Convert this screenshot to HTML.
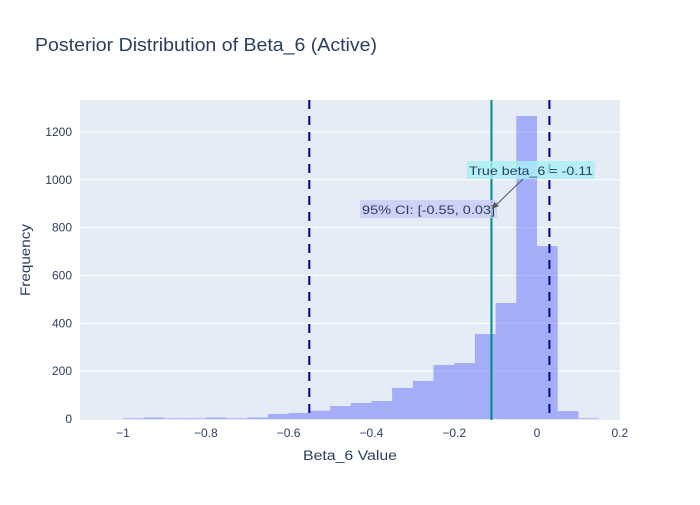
<!DOCTYPE html>
<html><head><meta charset="utf-8"><style>
body{margin:0;background:#fff;font-family:"Liberation Sans",Arial,sans-serif}
svg text{font-family:"Liberation Sans",Arial,sans-serif;fill:#2a3f5f}
</style></head><body>
<svg id="chart" width="700" height="500">
<rect width="700" height="500" fill="#fff"/>
<text x="35" y="51" font-size="18" textLength="342" lengthAdjust="spacingAndGlyphs">Posterior Distribution of Beta_6 (Active)</text>
<rect x="80" y="100" width="540" height="320" fill="#e5ecf6"/>
<g id="grid"></g><g id="bars"></g><g id="lines"></g><g id="ticks"></g><g id="ann"></g>
<text x="350" y="460" font-size="14" textLength="94" lengthAdjust="spacingAndGlyphs" text-anchor="middle">Beta_6 Value</text>
<text transform="translate(30,260) rotate(-90)" font-size="14" textLength="72" lengthAdjust="spacingAndGlyphs" text-anchor="middle">Frequency</text>
</svg>
<script>
const binStarts=[-1.0,-0.95,-0.9,-0.85,-0.8,-0.75,-0.7,-0.65,-0.6,-0.55,-0.5,-0.45,-0.4,-0.35,-0.3,-0.25,-0.2,-0.15,-0.1,-0.05,0,0.05,0.1];
const counts=[3,6,3,3,6,3,6,21,25,35,54,67,75,130,159,226,234,355,485,1267,723,33,3];
const binWidth=0.05;
const xTicks=[-1,-0.8,-0.6,-0.4,-0.2,0,0.2];
const xTickLabels=["−1","−0.8","−0.6","−0.4","−0.2","0","0.2"];
const yTicks=[0,200,400,600,800,1000,1200];
const ciBounds=[-0.55,0.03];
const trueValue=[-0.11];
const NS="http://www.w3.org/2000/svg";
const X=v=>537+v*414, Y=v=>419-v*0.2392;
function mk(tag,attrs,parent){const e=document.createElementNS(NS,tag);for(const k in attrs)e.setAttribute(k,attrs[k]);document.getElementById(parent).appendChild(e);return e;}
yTicks.forEach((t,i)=>{
 if(t>0){const g=mk('line',{x1:80,x2:620,y1:Y(t),y2:Y(t),stroke:'#fff','stroke-width':1},'grid');
 
 }
 const l=mk('text',{x:72,y:Y(t)+4,'font-size':12,'text-anchor':'end'},'ticks');l.textContent=t;
 
 
});
xTicks.forEach((t,i)=>{
 const l=mk('text',{x:X(t),y:437,'font-size':12,'text-anchor':'middle'},'ticks');l.textContent=xTickLabels[i];
 
 
});
binStarts.forEach((s,i)=>{
 const b=mk('rect',{x:X(s),y:Y(counts[i]),width:X(s+binWidth)-X(s),height:Y(0)-Y(counts[i]),fill:'#636efa','fill-opacity':0.5},'bars');
 
 
});
ciBounds.forEach(c=>{
 const l=mk('line',{x1:X(c),x2:X(c),y1:100,y2:420,stroke:'#00008b','stroke-width':2,'stroke-dasharray':'9,7'},'lines');
 
 
});
const tl=mk('line',{x1:X(trueValue[0]),x2:X(trueValue[0]),y1:100,y2:420,stroke:'#008b8b','stroke-width':2},'lines');


const cb=mk('rect',{x:360,y:200,width:137,height:18,fill:'#c8ccf5','fill-opacity':0.8},'ann');


const ct=mk('text',{x:362,y:214,'font-size':12,textLength:133,lengthAdjust:'spacingAndGlyphs'},'ann');ct.textContent='95% CI: [-0.55, 0.03]';


const tb=mk('rect',{x:467,y:161,width:128,height:18,fill:'#a8f0f5','fill-opacity':0.8},'ann');


const tt=mk('text',{x:469,y:175,'font-size':12,textLength:124,lengthAdjust:'spacingAndGlyphs'},'ann');tt.textContent='True beta_6 = -0.11';


const ar=mk('line',{x1:523,y1:179,x2:494,y2:207,stroke:'#555','stroke-width':1},'ann');


const ah=mk('polygon',{points:'492,209 494,202 499,206',fill:'#555'},'ann');


</script>
</body></html>
